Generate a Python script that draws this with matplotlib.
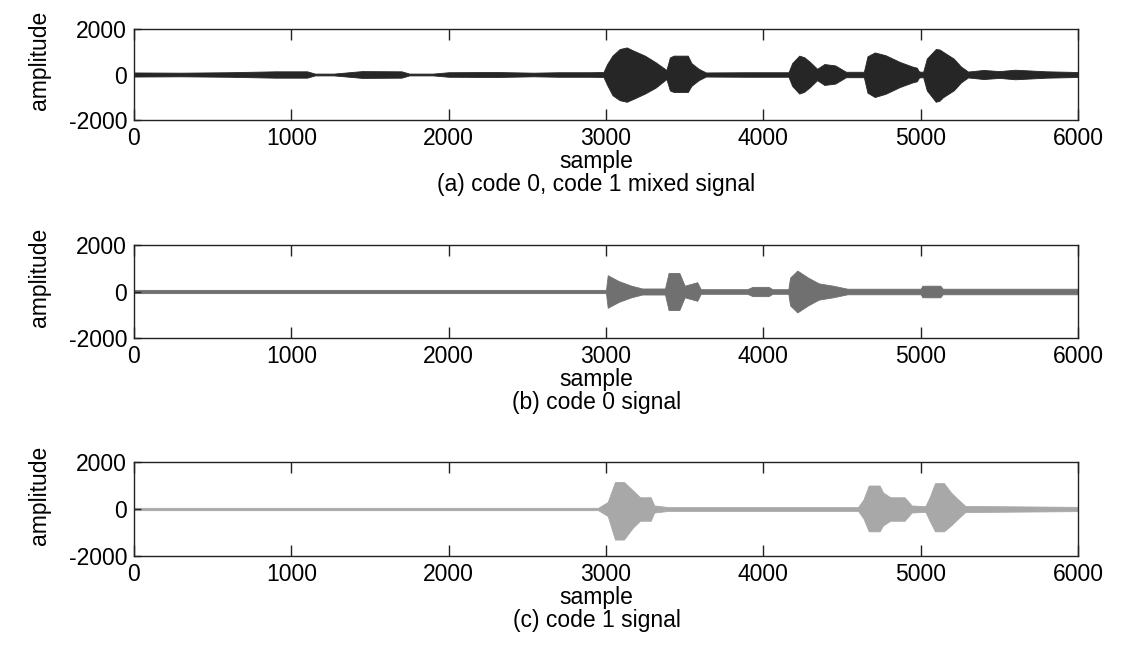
import matplotlib
matplotlib.use("Agg")
import matplotlib.pyplot as plt

plt.rcParams['font.family'] = ['Liberation Sans', 'DejaVu Sans']
plt.rcParams['axes.unicode_minus'] = False

# ---------------- data (envelope) ----------------
# panel (a): code 0, code 1 mixed signal
a_x = [0, 300, 600, 900, 1100, 1150, 1270, 1450, 1700, 1750, 1900, 2000, 2300,
       2540, 2700, 2900, 2984, 3007, 3041, 3087, 3132, 3178, 3247, 3315, 3384,
       3406, 3430, 3520, 3543, 3589, 3635, 3900, 4160, 4183, 4228, 4260, 4297,
       4342, 4388, 4457, 4525, 4639, 4662, 4708, 4776, 4868, 4947, 4975, 4990,
       5016, 5039, 5096, 5120, 5142, 5210, 5256, 5301, 5400, 5500, 5600, 5800, 6000]
a_up = [90, 80, 100, 140, 140, 40, 40, 150, 140, 40, 40, 100, 110,
        80, 100, 100, 110, 460, 830, 1120, 1190, 1040, 830, 540, 200,
        750, 830, 830, 500, 250, 90, 100, 100, 500, 830, 760, 550,
        250, 460, 400, 120, 120, 800, 970, 850, 550, 350, 300, 130,
        120, 700, 1120, 1100, 1000, 700, 350, 130, 200, 150, 210, 140, 110]
a_lo = [-90, -80, -100, -140, -140, -40, -40, -150, -140, -40, -40, -100, -110,
        -80, -100, -100, -110, -460, -910, -1130, -1200, -1060, -840, -580, -200,
        -700, -770, -770, -500, -250, -90, -100, -100, -500, -840, -760, -550,
        -250, -460, -400, -120, -120, -800, -990, -850, -550, -350, -300, -130,
        -120, -700, -1200, -1150, -1000, -700, -350, -130, -200, -150, -210, -140, -110]

# panel (b): code 0 signal
b_x = [0, 2900, 3000, 3011, 3080, 3160, 3230, 3375, 3398, 3466, 3500, 3580,
       3602, 3898, 3932, 4034, 4057, 4159, 4170, 4216, 4284, 4352, 4443, 4534,
       5000, 5011, 5125, 5140, 6000]
b_up = [70, 70, 70, 700, 450, 250, 130, 130, 800, 800, 250, 400,
        100, 100, 200, 200, 100, 100, 600, 900, 600, 350, 250, 120,
        120, 250, 250, 120, 120]
b_lo = [-70, -70, -70, -700, -450, -250, -130, -130, -800, -800, -250, -400,
        -100, -100, -200, -200, -100, -100, -600, -900, -600, -350, -250, -120,
        -120, -250, -250, -120, -120]

# panel (c): code 1 signal
c_x = [0, 2950, 3011, 3057, 3114, 3170, 3216, 3284, 3307, 3398, 4602, 4636,
       4670, 4739, 4761, 4807, 4898, 4943, 5030, 5057, 5091, 5148, 5193, 5239,
       5284, 6000]
c_up = [50, 50, 300, 1150, 1150, 800, 500, 500, 150, 80, 80, 400,
        1000, 1000, 700, 500, 500, 150, 120, 500, 1100, 1100, 700, 400,
        130, 90]
c_lo = [-50, -50, -300, -1300, -1300, -800, -500, -500, -150, -80, -80, -400,
        -950, -950, -700, -500, -500, -150, -120, -500, -950, -950, -700, -400,
        -130, -90]

captions = ['(a) code 0, code 1 mixed signal', '(b) code 0 signal', '(c) code 1 signal']
xticks = [0, 1000, 2000, 3000, 4000, 5000, 6000]
yticks = [-2000, 0, 2000]

# ---------------- figure ----------------
fig = plt.figure(figsize=(11.22, 6.51), dpi=100)
W, H = 1122, 651
boxes = [(134, 29, 1078, 120), (134, 245, 1078, 338), (134, 462, 1078, 556)]
panels = [(a_x, a_up, a_lo, '#262626'),
          (b_x, b_up, b_lo, '#707070'),
          (c_x, c_up, c_lo, '#a8a8a8')]

for (l, t, r, b), (xs, up, lo, col), cap in zip(boxes, panels, captions):
    ax = fig.add_axes([l / W, 1 - b / H, (r - l) / W, (b - t) / H])
    ax.fill_between(xs, lo, up, color=col, linewidth=0.6, edgecolor=col)
    ax.set_xlim(0, 6000)
    ax.set_ylim(-2000, 2000)
    ax.set_xticks(xticks)
    ax.set_yticks(yticks)
    ax.tick_params(axis='x', direction='in', length=8, width=1, top=True,
                   labelsize=16.5, pad=5, color='#222')
    ax.tick_params(axis='y', direction='in', length=5, width=1, right=False,
                   labelsize=16.5, pad=5, color='#222')
    for s in ax.spines.values():
        s.set_linewidth(1.0)
        s.set_color('#222')
    ax.set_xlabel('sample\n' + cap, fontsize=16.5, labelpad=0, linespacing=1.0)
    ax.xaxis.label.set_x(0.49)
    ax.set_ylabel('amplitude', fontsize=16.5)
    ax.yaxis.set_label_coords(-0.088, 0.65)

fig.savefig('out.png', dpi=100)
